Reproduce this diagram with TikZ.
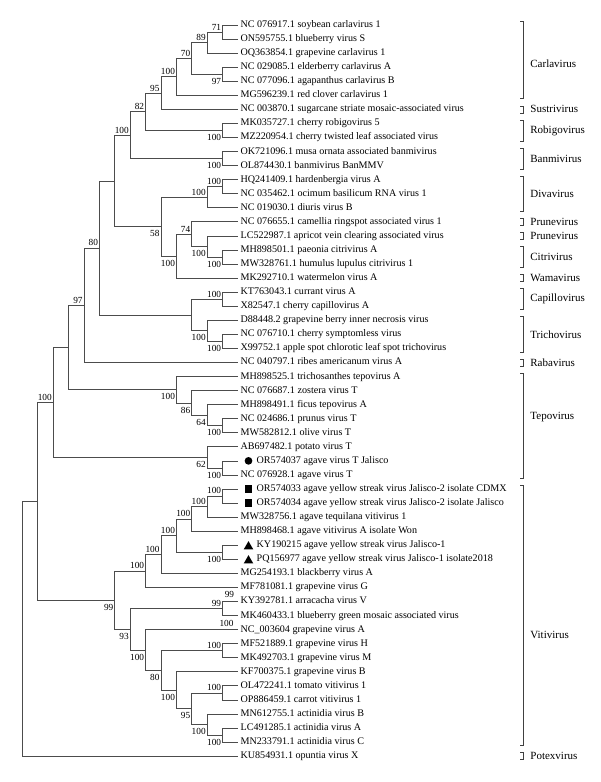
\documentclass[tikz,border=0pt]{standalone}
\usepackage{fontspec}
\setmainfont{Liberation Serif}
\usetikzlibrary{calc,shapes.geometric}

% lá: chỉ số, tên
\newcommand{\leaf}[2]{%
  \coordinate (l#1) at (237.9,{25+14.06*#1});
  \node[taxon] (t#1) at (l#1) {#2};
}
% lá có ký hiệu: chỉ số, kiểu ký hiệu, tên
\newcommand{\mleaf}[3]{%
  \coordinate (l#1) at (237.9,{25+14.06*#1});
  \node[#2] (k#1) at ([xshift=10.6pt]l#1) {};
  \node[taxon] (t#1) at ([xshift=16.1pt]l#1) {#3};
}
% nhánh: tên, mức, con trên, con dưới, bootstrap, vị trí nhãn
\newcommand{\clade}[6]{%
  \path (#3) -- (#4) coordinate[midway] (#1-m);
  \coordinate (#1) at (x#2 |- #1-m);
  \draw[branch] (#3) -| (#1) |- (#4);
  \if\relax\detokenize{#5}\relax\else
    \node[#6] (#1-bs) at (#1) {#5};
  \fi
}
% chi: tên, lá đầu, lá cuối, tên chi, vị trí nhãn
\newcommand{\genus}[5]{%
  \coordinate (#1-a) at ($(brk |- l#2)+(0,-3.5)$);
  \coordinate (#1-b) at ($(brk |- l#3)+(0,3.5)$);
  \draw[genusline] ($(#1-a)+(-3,0)$) -- (#1-a) -- (#1-b) -- ($(#1-b)+(-3,0)$);
  \node[genusname] (#1) at ($(#1-a)!#5!(#1-b)$) {#4};
}

\begin{document}
\begin{tikzpicture}[
        x=1pt, y=-1pt,
        branch/.style={draw=black!70, line width=0.7pt},
        genusline/.style={draw=black!75, line width=0.7pt},
        taxon/.style={anchor=west, inner xsep=2.5pt, inner ysep=0pt, text height=7pt, text depth=2pt,
            font=\fontsize{10.1}{11}\selectfont, text=black},
        bsup/.style={anchor=south east, inner sep=1.2pt, yshift=0.6pt, font=\fontsize{9.3}{10}\selectfont, text=black},
        bsdown/.style={anchor=north east, inner sep=1.2pt, yshift=-2.6pt, font=\fontsize{9.3}{10}\selectfont, text=black},
        genusname/.style={anchor=west, xshift=5.4pt, inner sep=1.5pt, font=\fontsize{11}{12}\selectfont, text=black},
        mkcirc/.style={circle, fill=black, inner sep=0pt, minimum size=7.7pt},
        mksq/.style={rectangle, fill=black, inner sep=0pt, minimum size=7.5pt},
        mktri/.style={regular polygon, regular polygon sides=3, fill=black, inner sep=0pt, minimum size=11pt, yshift=-1.4pt}
    ]
        \useasboundingbox (0,0) rectangle (600,782);

        % Các mức nhánh
        \foreach \k in {0,...,14} \coordinate (x\k) at ({22.4+15.39*\k},0);
        \coordinate (brk) at (523.3,0);

        % Vẽ các lá
        \leaf{0}{NC 076917.1 soybean carlavirus 1}
        \leaf{1}{ON595755.1 blueberry virus S}
        \leaf{2}{OQ363854.1 grapevine carlavirus 1}
        \leaf{3}{NC 029085.1 elderberry carlavirus A}
        \leaf{4}{NC 077096.1 agapanthus carlavirus B}
        \leaf{5}{MG596239.1 red clover carlavirus 1}
        \leaf{6}{NC 003870.1 sugarcane striate mosaic-associated virus}
        \leaf{7}{MK035727.1 cherry robigovirus 5}
        \leaf{8}{MZ220954.1 cherry twisted leaf associated virus}
        \leaf{9}{OK721096.1 musa ornata associated banmivirus}
        \leaf{10}{OL874430.1 banmivirus BanMMV}
        \leaf{11}{HQ241409.1 hardenbergia virus A}
        \leaf{12}{NC 035462.1 ocimum basilicum RNA virus 1}
        \leaf{13}{NC 019030.1 diuris virus B}
        \leaf{14}{NC 076655.1 camellia ringspot associated virus 1}
        \leaf{15}{LC522987.1 apricot vein clearing associated virus}
        \leaf{16}{MH898501.1 paeonia citrivirus A}
        \leaf{17}{MW328761.1 humulus lupulus citrivirus 1}
        \leaf{18}{MK292710.1 watermelon virus A}
        \leaf{19}{KT763043.1 currant virus A}
        \leaf{20}{X82547.1 cherry capillovirus A}
        \leaf{21}{D88448.2 grapevine berry inner necrosis virus}
        \leaf{22}{NC 076710.1 cherry symptomless virus}
        \leaf{23}{X99752.1 apple spot chlorotic leaf spot trichovirus}
        \leaf{24}{NC 040797.1 ribes americanum virus A}
        \leaf{25}{MH898525.1 trichosanthes tepovirus A}
        \leaf{26}{NC 076687.1 zostera virus T}
        \leaf{27}{MH898491.1 ficus tepovirus A}
        \leaf{28}{NC 024686.1 prunus virus T}
        \leaf{29}{MW582812.1 olive virus T}
        \leaf{30}{AB697482.1 potato virus T}
        \mleaf{31}{mkcirc}{OR574037 agave virus T Jalisco}
        \leaf{32}{NC 076928.1 agave virus T}
        \mleaf{33}{mksq}{OR574033 agave yellow streak virus Jalisco-2 isolate CDMX}
        \mleaf{34}{mksq}{OR574034 agave yellow streak virus Jalisco-2 isolate Jalisco}
        \leaf{35}{MW328756.1 agave tequilana vitivirus 1}
        \leaf{36}{MH898468.1 agave vitivirus A isolate Won}
        \mleaf{37}{mktri}{KY190215 agave yellow streak virus Jalisco-1}
        \mleaf{38}{mktri}{PQ156977 agave yellow streak virus Jalisco-1 isolate2018}
        \leaf{39}{MG254193.1 blackberry virus A}
        \leaf{40}{MF781081.1 grapevine virus G}
        \leaf{41}{KY392781.1 arracacha virus V}
        \leaf{42}{MK460433.1 blueberry green mosaic associated virus}
        \leaf{43}{NC\_003604 grapevine virus A}
        \leaf{44}{MF521889.1 grapevine virus H}
        \leaf{45}{MK492703.1 grapevine virus M}
        \leaf{46}{KF700375.1 grapevine virus B}
        \leaf{47}{OL472241.1 tomato vitivirus 1}
        \leaf{48}{OP886459.1 carrot vitivirus 1}
        \leaf{49}{MN612755.1 actinidia virus B}
        \leaf{50}{LC491285.1 actinidia virus A}
        \leaf{51}{MN233791.1 actinidia virus C}
        \leaf{52}{KU854931.1 opuntia virus X}

        % Vẽ các nhánh
        \clade{n71}{13}{l0}{l1}{71}{bsup}
        \clade{n89}{12}{n71}{l2}{89}{bsup}
        \clade{n97a}{13}{l3}{l4}{97}{bsdown}
        \clade{n70}{11}{n89}{n97a}{70}{bsup}
        \clade{n100a}{10}{n70}{l5}{100}{bsup}
        \clade{n95}{9}{n100a}{l6}{95}{bsup}
        \clade{rob}{13}{l7}{l8}{100}{bsdown}
        \clade{n82}{8}{n95}{rob}{82}{bsup}
        \clade{ban}{13}{l9}{l10}{100}{bsdown}
        \clade{n100b}{7}{n82}{ban}{100}{bsup}
        \clade{div1}{13}{l11}{l12}{100}{bsup}
        \clade{div}{12}{div1}{l13}{100}{bsup}
        \clade{cit}{13}{l16}{l17}{100}{bsdown}
        \clade{cit2}{12}{l15}{cit}{100}{bsdown}
        \clade{n74}{11}{l14}{cit2}{74}{bsup}
        \clade{wam}{10}{n74}{l18}{100}{bsdown}
        \clade{n58}{9}{div}{wam}{58}{bsdown}
        \clade{n6}{6}{n100b}{n58}{}{}
        \clade{cap}{13}{l19}{l20}{100}{bsup}
        \clade{tri1}{13}{l22}{l23}{100}{bsdown}
        \clade{tri}{12}{l21}{tri1}{100}{bsdown}
        \clade{ct}{11}{cap}{tri}{}{}
        \clade{n80}{5}{n6}{ct}{80}{bsup}
        \clade{n97}{4}{n80}{l24}{97}{bsup}
        \clade{p1}{13}{l28}{l29}{100}{bsdown}
        \clade{p2}{12}{l27}{p1}{64}{bsdown}
        \clade{p3}{11}{l26}{p2}{86}{bsdown}
        \clade{tepA}{10}{l25}{p3}{100}{bsdown}
        \clade{n3}{3}{n97}{tepA}{}{}
        \clade{q1}{13}{l31}{l32}{100}{bsdown}
        \clade{q2}{12}{l30}{q1}{62}{bsdown}
        \clade{n2}{2}{n3}{q2}{100}{bsup}
        \clade{v1}{13}{l33}{l34}{100}{bsup}
        \clade{v2}{12}{v1}{l35}{100}{bsup}
        \clade{v3}{11}{v2}{l36}{100}{bsup}
        \clade{v4a}{13}{l37}{l38}{100}{bsdown}
        \clade{v4}{10}{v3}{v4a}{100}{bsup}
        \clade{v5}{9}{v4}{l39}{100}{bsup}
        \clade{v6}{8}{v5}{l40}{100}{bsup}
        \clade{w1}{13}{l41}{l42}{99}{bsup}
        \clade{y1}{13}{l44}{l45}{100}{bsup}
        \clade{y2a}{13}{l47}{l48}{100}{bsup}
        \clade{y2c}{13}{l50}{l51}{100}{bsdown}
        \clade{y2b}{12}{l49}{y2c}{100}{bsdown}
        \clade{y2}{11}{y2a}{y2b}{95}{bsdown}
        \clade{y3}{10}{l46}{y2}{100}{bsdown}
        \clade{y4}{9}{y1}{y3}{80}{bsdown}
        \clade{y5}{8}{l43}{y4}{100}{bsdown}
        \clade{w2}{7}{w1}{y5}{93}{bsdown}
        \clade{v7}{6}{v6}{w2}{99}{bsdown}
        \clade{n1}{1}{n2}{v7}{}{}
        \clade{root}{0}{n1}{l52}{}{}

        % Nhãn thêm trên nhánh lá
        \node[bsup, anchor=south, yshift=1.5pt] (w1-up) at ($(l41)+(-8.5,0)$) {99};
        \node[bsdown, anchor=north, yshift=-0.5pt] (w1-down) at ($(l42)+(-11.4,0)$) {100};

        % Các chi virus
        \genus{g1}{0}{5}{Carlavirus}{0.54}
        \genus{g2}{6}{6}{Sustrivirus}{0.5}
        \genus{g3}{7}{8}{Robigovirus}{0.5}
        \genus{g4}{9}{10}{Banmivirus}{0.5}
        \genus{g5}{11}{13}{Divavirus}{0.5}
        \genus{g6}{14}{14}{Prunevirus}{0.5}
        \genus{g7}{15}{15}{Prunevirus}{0.5}
        \genus{g8}{16}{17}{Citrivirus}{0.5}
        \genus{g9}{18}{18}{Wamavirus}{0.5}
        \genus{g10}{19}{20}{Capillovirus}{0.5}
        \genus{g11}{21}{23}{Trichovirus}{0.5}
        \genus{g12}{24}{24}{Rabavirus}{0.5}
        \genus{g13}{25}{32}{Tepovirus}{0.42}
        \genus{g14}{33}{51}{Vitivirus}{0.575}
        \genus{g15}{52}{52}{Potexvirus}{0.5}
    \end{tikzpicture}
\end{document}
